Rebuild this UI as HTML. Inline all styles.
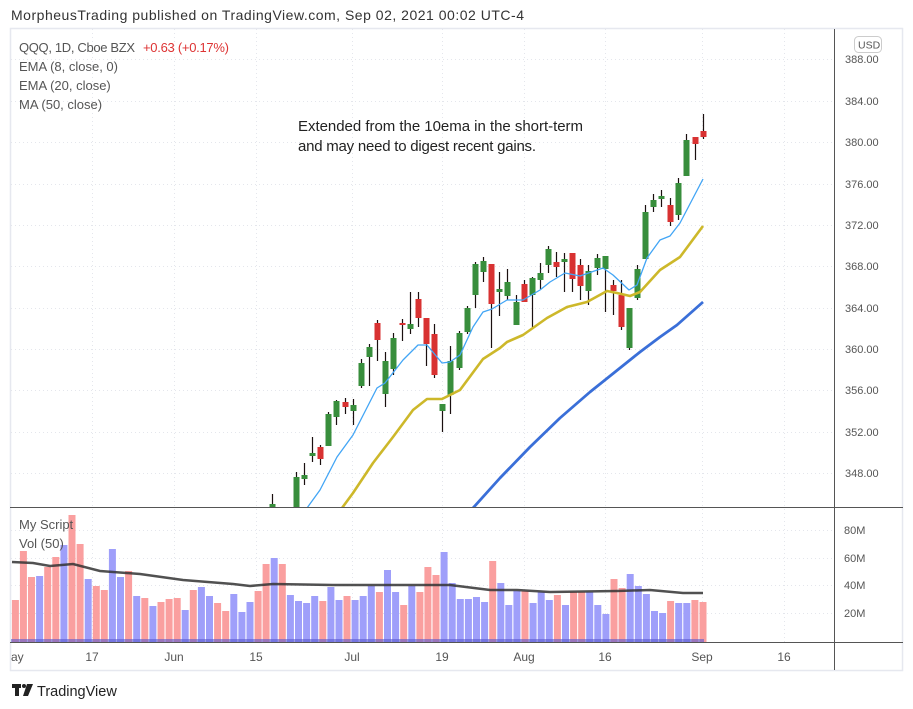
<!DOCTYPE html>
<html><head><meta charset="utf-8"><style>
html,body{margin:0;padding:0;background:#fff;width:913px;height:709px;overflow:hidden}
svg{display:block;font-family:"Liberation Sans",sans-serif}
</style></head><body>
<svg width="913" height="709" viewBox="0 0 913 709" xmlns="http://www.w3.org/2000/svg">
<defs><clipPath id="mp"><rect x="11" y="29" width="823" height="478"/></clipPath>
<clipPath id="vp"><rect x="11" y="508" width="823" height="134"/></clipPath></defs>
<text x="11" y="20" font-size="14" fill="#333" textLength="513">MorpheusTrading published on TradingView.com, Sep 02, 2021 00:02 UTC-4</text>
<rect x="10.5" y="28.5" width="892" height="642" fill="none" stroke="#e6e8ef" stroke-width="1.5"/>
<g stroke="#e4e6ec" stroke-dasharray="1,3" stroke-width="1">
<line x1="11" x2="834" y1="59.5" y2="59.5"/><line x1="11" x2="834" y1="101.5" y2="101.5"/><line x1="11" x2="834" y1="142.5" y2="142.5"/><line x1="11" x2="834" y1="184.5" y2="184.5"/><line x1="11" x2="834" y1="225.5" y2="225.5"/><line x1="11" x2="834" y1="266.5" y2="266.5"/><line x1="11" x2="834" y1="308.5" y2="308.5"/><line x1="11" x2="834" y1="349.5" y2="349.5"/><line x1="11" x2="834" y1="390.5" y2="390.5"/><line x1="11" x2="834" y1="432.5" y2="432.5"/><line x1="11" x2="834" y1="473.5" y2="473.5"/>
<line x1="11" x2="834" y1="530.5" y2="530.5"/><line x1="11" x2="834" y1="558.5" y2="558.5"/><line x1="11" x2="834" y1="585.5" y2="585.5"/><line x1="11" x2="834" y1="613.5" y2="613.5"/>
<line y1="29" y2="642" x1="92.5" x2="92.5"/><line y1="29" y2="642" x1="174.5" x2="174.5"/><line y1="29" y2="642" x1="256.5" x2="256.5"/><line y1="29" y2="642" x1="352.5" x2="352.5"/><line y1="29" y2="642" x1="442.5" x2="442.5"/><line y1="29" y2="642" x1="524.5" x2="524.5"/><line y1="29" y2="642" x1="605.5" x2="605.5"/><line y1="29" y2="642" x1="702.5" x2="702.5"/><line y1="29" y2="642" x1="784.5" x2="784.5"/>
</g>
<g clip-path="url(#vp)">
<g fill="#fa9f9f">
<rect x="11.9" y="600" width="7" height="42"/><rect x="19.9" y="551" width="7" height="91"/><rect x="28" y="577" width="7" height="65"/><rect x="44.2" y="567" width="7" height="75"/><rect x="52.3" y="557" width="7" height="85"/><rect x="68.5" y="515" width="7" height="127"/><rect x="76.6" y="544" width="7" height="98"/><rect x="92.8" y="586" width="7" height="56"/><rect x="100.8" y="590" width="7" height="52"/><rect x="125.1" y="571" width="7" height="71"/><rect x="141.3" y="598" width="7" height="44"/><rect x="157.5" y="602" width="7" height="40"/><rect x="165.6" y="599" width="7" height="43"/><rect x="173.7" y="598" width="7" height="44"/><rect x="189.8" y="590" width="7" height="52"/><rect x="214.1" y="603" width="7" height="39"/><rect x="222.2" y="611" width="7" height="31"/><rect x="254.6" y="591" width="7" height="51"/><rect x="262.6" y="564" width="7" height="78"/><rect x="278.8" y="564" width="7" height="78"/><rect x="319.3" y="601" width="7" height="41"/><rect x="343.5" y="596" width="7" height="46"/><rect x="375.9" y="592" width="7" height="50"/><rect x="400.2" y="605" width="7" height="37"/><rect x="416.4" y="592" width="7" height="50"/><rect x="424.4" y="567" width="7" height="75"/><rect x="432.5" y="575" width="7" height="67"/><rect x="489.2" y="561" width="7" height="81"/><rect x="521.5" y="591" width="7" height="51"/><rect x="553.9" y="595" width="7" height="47"/><rect x="570.1" y="592" width="7" height="50"/><rect x="578.2" y="592" width="7" height="50"/><rect x="610.5" y="579" width="7" height="63"/><rect x="618.6" y="588" width="7" height="54"/><rect x="667.1" y="601" width="7" height="41"/><rect x="691.4" y="600" width="7" height="42"/><rect x="699.5" y="602" width="7" height="40"/>
</g>
<g fill="#9f9ffa">
<rect x="36.1" y="576" width="7" height="66"/><rect x="60.4" y="545" width="7" height="97"/><rect x="84.7" y="579" width="7" height="63"/><rect x="108.9" y="549" width="7" height="93"/><rect x="117" y="577" width="7" height="65"/><rect x="133.2" y="596" width="7" height="46"/><rect x="149.4" y="606" width="7" height="36"/><rect x="181.7" y="610" width="7" height="32"/><rect x="197.9" y="587" width="7" height="55"/><rect x="206" y="596" width="7" height="46"/><rect x="230.3" y="594" width="7" height="48"/><rect x="238.4" y="612" width="7" height="30"/><rect x="246.5" y="602" width="7" height="40"/><rect x="270.7" y="558" width="7" height="84"/><rect x="286.9" y="595" width="7" height="47"/><rect x="295" y="601" width="7" height="41"/><rect x="303.1" y="603" width="7" height="39"/><rect x="311.2" y="596" width="7" height="46"/><rect x="327.4" y="587" width="7" height="55"/><rect x="335.5" y="600" width="7" height="42"/><rect x="351.6" y="600" width="7" height="42"/><rect x="359.7" y="596" width="7" height="46"/><rect x="367.8" y="586" width="7" height="56"/><rect x="384" y="570" width="7" height="72"/><rect x="392.1" y="592" width="7" height="50"/><rect x="408.3" y="586" width="7" height="56"/><rect x="440.6" y="552" width="7" height="90"/><rect x="448.7" y="583" width="7" height="59"/><rect x="456.8" y="599" width="7" height="43"/><rect x="464.9" y="599" width="7" height="43"/><rect x="473" y="597" width="7" height="45"/><rect x="481.1" y="602" width="7" height="40"/><rect x="497.3" y="583" width="7" height="59"/><rect x="505.3" y="605" width="7" height="37"/><rect x="513.4" y="591" width="7" height="51"/><rect x="529.6" y="603" width="7" height="39"/><rect x="537.7" y="592" width="7" height="50"/><rect x="545.8" y="600" width="7" height="42"/><rect x="562" y="605" width="7" height="37"/><rect x="586.2" y="592" width="7" height="50"/><rect x="594.3" y="605" width="7" height="37"/><rect x="602.4" y="614" width="7" height="28"/><rect x="626.7" y="574" width="7" height="68"/><rect x="634.8" y="586" width="7" height="56"/><rect x="642.9" y="594" width="7" height="48"/><rect x="651" y="611" width="7" height="31"/><rect x="659.1" y="613" width="7" height="29"/><rect x="675.2" y="603" width="7" height="39"/><rect x="683.3" y="603" width="7" height="39"/>
</g>
<rect x="11" y="639" width="693" height="3" fill="#5a5ad0" opacity="0.6"/>
</g>
<polyline clip-path="url(#vp)" fill="none" stroke="#333" stroke-width="2.5" opacity="0.85" points="12,562 33,563 50,566 73,564 100,571 140,574 183,580 233,584 250,586 273,584 333,585 450,585 490,590 517,590 550,592 617,591 650,590 683,593 703,593"/>
<g clip-path="url(#mp)">
<g stroke="#1a1010" stroke-width="1.2">
<path d="M272.5 494V508M296.5 472V508M304.5 463V485M312.5 437V462M320.5 445V465M328.5 412V446M336.5 400V425M345.5 398V414M353.5 399V425M361.5 359V388M369.5 344V386M377.5 320V361M385.5 352V407M393.5 333V375M402.5 319V341M410.5 292V334M418.5 292V327M426.5 318V366M434.5 324V378M442.5 404V432M450.5 346V414M459.5 331V370M467.5 306V334M475.5 262V308M483.5 257V282M491.5 264V348M499.5 272V316M507.5 269V300M516.5 295V325M524.5 280V300M532.5 277V327M540.5 263V289M548.5 246V273M556.5 252V277M564.5 253V292M572.5 253V292M580.5 259V300M588.5 265V305M597.5 254V275M605.5 256V312M613.5 280V315M621.5 280V330M629.5 308V350M637.5 265V300M645.5 205V259M653.5 194V212M661.5 190V207M670.5 198V226M678.5 178V220M686.5 134V176M695.5 137V160M703.5 114V139"/>
</g>
<g fill="#388e3c">
<rect x="269.5" y="504" width="6" height="4"/><rect x="293.5" y="477" width="6" height="31"/><rect x="301.5" y="475" width="6" height="4"/><rect x="309.5" y="453" width="6" height="3"/><rect x="325.5" y="414" width="6" height="32"/><rect x="333.5" y="401" width="6" height="16"/><rect x="350.5" y="405" width="6" height="6"/><rect x="358.5" y="363" width="6" height="23"/><rect x="366.5" y="347" width="6" height="10"/><rect x="382.5" y="361" width="6" height="33"/><rect x="390.5" y="338" width="6" height="31"/><rect x="407.5" y="324" width="6" height="5"/><rect x="439.5" y="404" width="6" height="7"/><rect x="447.5" y="361" width="6" height="34"/><rect x="456.5" y="333" width="6" height="35"/><rect x="464.5" y="308" width="6" height="24"/><rect x="472.5" y="264" width="6" height="31"/><rect x="480.5" y="261" width="6" height="11"/><rect x="496.5" y="289" width="6" height="3"/><rect x="504.5" y="282" width="6" height="14"/><rect x="513.5" y="302" width="6" height="23"/><rect x="529.5" y="278" width="6" height="17"/><rect x="537.5" y="273" width="6" height="7"/><rect x="545.5" y="249" width="6" height="16"/><rect x="561.5" y="259" width="6" height="3"/><rect x="585.5" y="271" width="6" height="20"/><rect x="594.5" y="258" width="6" height="10"/><rect x="602.5" y="256" width="6" height="13"/><rect x="626.5" y="308" width="6" height="40"/><rect x="634.5" y="269" width="6" height="29"/><rect x="642.5" y="212" width="6" height="47"/><rect x="650.5" y="200" width="6" height="7"/><rect x="658.5" y="196" width="6" height="3"/><rect x="675.5" y="183" width="6" height="32"/><rect x="683.5" y="140" width="6" height="36"/>
</g>
<g fill="#d83232">
<rect x="317.5" y="447" width="6" height="12"/><rect x="342.5" y="402" width="6" height="5"/><rect x="374.5" y="323" width="6" height="17"/><rect x="399.5" y="323" width="6" height="2"/><rect x="415.5" y="299" width="6" height="19"/><rect x="423.5" y="318" width="6" height="26"/><rect x="431.5" y="334" width="6" height="41"/><rect x="488.5" y="264" width="6" height="40"/><rect x="521.5" y="284" width="6" height="18"/><rect x="553.5" y="262" width="6" height="5"/><rect x="569.5" y="253" width="6" height="26"/><rect x="577.5" y="265" width="6" height="21"/><rect x="610.5" y="285" width="6" height="6"/><rect x="618.5" y="295" width="6" height="32"/><rect x="667.5" y="205" width="6" height="17"/><rect x="692.5" y="137" width="6" height="7"/><rect x="700.5" y="131" width="6" height="6"/>
</g>
<g fill="none" stroke-linejoin="round">
<polyline stroke="#42a5f5" stroke-width="1.3" points="307,508 320,490 337,457 353,435 377,388 385,383 403,360 418,345 427,345 442,363 450,362 460,355 473,327 483,312 492,309 507,300 523,300 540,290 550,282 565,273 580,276 603,268 613,275 629,290 637,285 647,258 660,240 670,236 680,223 703,179"/>
<polyline stroke="#cdb82a" stroke-width="2.6" points="342,508 353,493 373,463 393,437 413,410 427,399 442,399 460,390 483,359 500,348 507,342 523,335 547,318 567,307 587,302 607,291 617,293 630,296 640,292 660,270 680,257 703,226"/>
<polyline stroke="#3a6fd8" stroke-width="2.8" points="473,508 500,478 530,447 560,418 590,392 615,372 640,352 660,337 677,325 703,302"/>
</g>
</g>
<line x1="10" x2="903" y1="507.5" y2="507.5" stroke="#555" stroke-width="1"/>
<line x1="10" x2="903" y1="642.5" y2="642.5" stroke="#555" stroke-width="1"/>
<line x1="834.5" x2="834.5" y1="29" y2="670" stroke="#555" stroke-width="1"/>
<g font-size="11" fill="#555">
<text x="845" y="63">388.00</text><text x="845" y="105">384.00</text><text x="845" y="146">380.00</text><text x="845" y="188">376.00</text><text x="845" y="229">372.00</text><text x="845" y="270">368.00</text><text x="845" y="312">364.00</text><text x="845" y="353">360.00</text><text x="845" y="394">356.00</text><text x="845" y="436">352.00</text><text x="845" y="477">348.00</text>
<text x="844" y="534">80M</text><text x="844" y="562">60M</text><text x="844" y="589">40M</text><text x="844" y="617">20M</text>
</g>
<rect x="854.5" y="36.5" width="27" height="16" rx="4" fill="#fff" stroke="#ccc"/>
<text x="858" y="48.5" font-size="10.5" fill="#555">USD</text>
<g font-size="12" fill="#555" text-anchor="middle">
<text x="92" y="661">17</text><text x="174" y="661">Jun</text><text x="256" y="661">15</text><text x="352" y="661">Jul</text><text x="442" y="661">19</text><text x="524" y="661">Aug</text><text x="605" y="661">16</text><text x="702" y="661">Sep</text><text x="784" y="661">16</text>
</g>
<text x="11" y="661" font-size="12" fill="#555">ay</text>
<g font-size="13" fill="#555">
<text x="19" y="52" textLength="116">QQQ, 1D, Cboe BZX</text>
<text x="143" y="52" fill="#d33" textLength="86">+0.63 (+0.17%)</text>
<text x="19" y="71">EMA (8, close, 0)</text>
<text x="19" y="90">EMA (20, close)</text>
<text x="19" y="109">MA (50, close)</text>
<text x="19" y="529">My Script</text>
<text x="19" y="548">Vol (50)</text>
</g>
<text x="298" y="131" font-size="15" fill="#222" textLength="285">Extended from the 10ema in the short-term</text>
<text x="298" y="151" font-size="15" fill="#222" textLength="238">and may need to digest recent gains.</text>
<g fill="#222"><rect x="12" y="684" width="9" height="4"/><rect x="15" y="684" width="4" height="12"/><circle cx="24" cy="686" r="2"/><polygon points="27,684 33,684 28,696 23,696"/></g>
<text x="37" y="696" font-size="14.5" fill="#222">TradingView</text>
</svg>
</body></html>
